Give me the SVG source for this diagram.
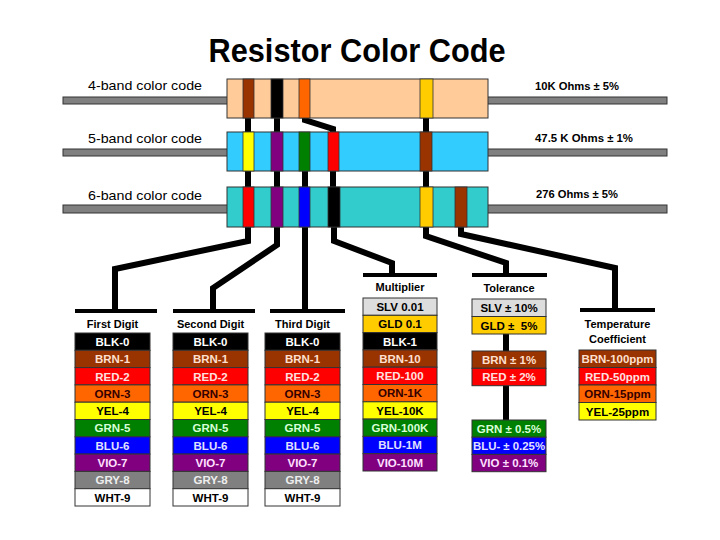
<svg xmlns="http://www.w3.org/2000/svg" width="720" height="540" viewBox="0 0 720 540">
<style>
.t{font-family:"Liberation Sans",Arial,sans-serif;font-weight:bold;font-size:11.5px;text-anchor:middle}
.h{font-size:11px}
.lbl{font-family:"Liberation Sans",Arial,sans-serif;font-size:13.5px}
.val{font-family:"Liberation Sans",Arial,sans-serif;font-weight:bold;font-size:11.5px}
.title{font-family:"Liberation Sans",Arial,sans-serif;font-weight:bold;font-size:34px;text-anchor:middle}
.lead{fill:#808080;stroke:#333;stroke-width:1}
.body{stroke:#333;stroke-width:1}
.band{stroke:#333;stroke-width:0.8}
.cell{stroke:#333;stroke-width:1}
.con{fill:none;stroke:#000;stroke-width:6;stroke-linejoin:miter}
.bar{fill:none;stroke:#000;stroke-width:4}
.blk{fill:#000}.brn{fill:#993300}.red{fill:#FF0000}.orn{fill:#FF6600}.yel{fill:#FFFF00}
.grn{fill:#008000}.blu{fill:#0000FF}.vio{fill:#800080}.gry{fill:#808080}.wht{fill:#FFFFFF}
.slv{fill:#DDDDDD}.gld{fill:#FFCC00}
.tw{fill:#FFFFFF}.tbrn{fill:#FFE0D0}.tred{fill:#FFE0E0}.torn{fill:#330000}.tk{fill:#000}
.tgrn{fill:#D8FFD8}.tblu{fill:#E0E0FF}.tvio{fill:#FFE0FF}.tgry{fill:#EEEEEE}
</style>

<text class="title" x="357" y="62" textLength="297" lengthAdjust="spacingAndGlyphs">Resistor Color Code</text>

<g id="connectors">
  <polyline class="con" points="248,116 248,134"/>
  <polyline class="con" points="277,116 277,134"/>
  <polyline class="con" points="305,116 305,120 333,129 333,134"/>
  <polyline class="con" points="426,116 426,134"/>
  <polyline class="con" points="248,168 248,190"/>
  <polyline class="con" points="277,168 277,190"/>
  <polyline class="con" points="305,168 305,190"/>
  <polyline class="con" points="333,168 333,190"/>
  <polyline class="con" points="426,168 426,190"/>
  <polyline class="con" points="248,224 248,241 115,269 115,311"/>
  <polyline class="con" points="277,224 277,245 213,288 213,311"/>
  <polyline class="con" points="305,224 305,311"/>
  <polyline class="con" points="334,224 334,241 392,263 392,275"/>
  <polyline class="con" points="426,224 426,236 506,263 506,275"/>
  <polyline class="con" points="461,224 461,234 615,268 615,310"/>
  <line class="bar" x1="75" y1="311" x2="157" y2="311"/>
  <line class="bar" x1="173" y1="311" x2="255" y2="311"/>
  <line class="bar" x1="270" y1="311" x2="345" y2="311"/>
  <line class="bar" x1="363" y1="275" x2="437" y2="275"/>
  <line class="bar" x1="472" y1="275" x2="547" y2="275"/>
  <line class="bar" x1="580" y1="310" x2="655" y2="310"/>
  <line class="con" x1="506" y1="332" x2="506" y2="353"/>
  <line class="con" x1="506" y1="384" x2="506" y2="422"/>
</g>

<g id="resistor-4band">
  <text class="lbl" x="88" y="90" textLength="114" lengthAdjust="spacingAndGlyphs">4-band color code</text>
  <rect class="lead" x="63" y="97" width="604" height="7"/>
  <rect class="body" x="227" y="79" width="261" height="39" fill="#FFCC99"/>
  <rect class="band brn" x="243" y="79" width="11" height="39"/>
  <rect class="band blk" x="271" y="79" width="12" height="39"/>
  <rect class="band orn" x="299" y="79" width="11" height="39"/>
  <rect class="band gld" x="420" y="79" width="13" height="39"/>
  <text class="val" x="535" y="90" textLength="84" lengthAdjust="spacingAndGlyphs">10K Ohms ± 5%</text>
</g>

<g id="resistor-5band">
  <text class="lbl" x="88" y="143" textLength="114" lengthAdjust="spacingAndGlyphs">5-band color code</text>
  <rect class="lead" x="63" y="149" width="604" height="7"/>
  <rect class="body" x="227" y="132" width="261" height="39" fill="#33CCFF"/>
  <rect class="band yel" x="243" y="132" width="11" height="39"/>
  <rect class="band vio" x="271" y="132" width="12" height="39"/>
  <rect class="band grn" x="299" y="132" width="11" height="39"/>
  <rect class="band red" x="328" y="132" width="11" height="39"/>
  <rect class="band brn" x="420" y="132" width="12" height="39"/>
  <text class="val" x="535" y="142" textLength="98" lengthAdjust="spacingAndGlyphs">47.5 K Ohms ± 1%</text>
</g>

<g id="resistor-6band">
  <text class="lbl" x="88" y="200" textLength="114" lengthAdjust="spacingAndGlyphs">6-band color code</text>
  <rect class="lead" x="63" y="205" width="604" height="8"/>
  <rect class="body" x="227" y="187" width="261" height="40" fill="#33CCCC"/>
  <rect class="band red" x="243" y="187" width="11" height="40"/>
  <rect class="band vio" x="271" y="187" width="12" height="40"/>
  <rect class="band blu" x="299" y="187" width="11" height="40"/>
  <rect class="band blk" x="328" y="187" width="12" height="40"/>
  <rect class="band gld" x="420" y="187" width="13" height="40"/>
  <rect class="band brn" x="455" y="187" width="12" height="40"/>
  <text class="val" x="536" y="198" textLength="82" lengthAdjust="spacingAndGlyphs">276 Ohms ± 5%</text>
</g>

<g id="first-digit">
  <text class="t h tk" x="112.5" y="328">First Digit</text>
  <rect class="cell blk" x="75" y="333" width="75" height="17.3"/><text class="t tw" x="112.5" y="345.9">BLK-0</text>
  <rect class="cell brn" x="75" y="350.3" width="75" height="17.3"/><text class="t tbrn" x="112.5" y="363.2">BRN-1</text>
  <rect class="cell red" x="75" y="367.6" width="75" height="17.3"/><text class="t tred" x="112.5" y="380.5">RED-2</text>
  <rect class="cell orn" x="75" y="384.9" width="75" height="17.3"/><text class="t torn" x="112.5" y="397.8">ORN-3</text>
  <rect class="cell yel" x="75" y="402.2" width="75" height="17.3"/><text class="t tk" x="112.5" y="415.1">YEL-4</text>
  <rect class="cell grn" x="75" y="419.5" width="75" height="17.3"/><text class="t tgrn" x="112.5" y="432.4">GRN-5</text>
  <rect class="cell blu" x="75" y="436.8" width="75" height="17.3"/><text class="t tblu" x="112.5" y="449.7">BLU-6</text>
  <rect class="cell vio" x="75" y="454.1" width="75" height="17.3"/><text class="t tvio" x="112.5" y="467">VIO-7</text>
  <rect class="cell gry" x="75" y="471.4" width="75" height="17.3"/><text class="t tgry" x="112.5" y="484.3">GRY-8</text>
  <rect class="cell wht" x="75" y="488.7" width="75" height="17.3"/><text class="t tk" x="112.5" y="501.6">WHT-9</text>
</g>

<g id="second-digit">
  <text class="t h tk" x="210.5" y="328">Second Digit</text>
  <rect class="cell blk" x="173" y="333" width="75" height="17.3"/><text class="t tw" x="210.5" y="345.9">BLK-0</text>
  <rect class="cell brn" x="173" y="350.3" width="75" height="17.3"/><text class="t tbrn" x="210.5" y="363.2">BRN-1</text>
  <rect class="cell red" x="173" y="367.6" width="75" height="17.3"/><text class="t tred" x="210.5" y="380.5">RED-2</text>
  <rect class="cell orn" x="173" y="384.9" width="75" height="17.3"/><text class="t torn" x="210.5" y="397.8">ORN-3</text>
  <rect class="cell yel" x="173" y="402.2" width="75" height="17.3"/><text class="t tk" x="210.5" y="415.1">YEL-4</text>
  <rect class="cell grn" x="173" y="419.5" width="75" height="17.3"/><text class="t tgrn" x="210.5" y="432.4">GRN-5</text>
  <rect class="cell blu" x="173" y="436.8" width="75" height="17.3"/><text class="t tblu" x="210.5" y="449.7">BLU-6</text>
  <rect class="cell vio" x="173" y="454.1" width="75" height="17.3"/><text class="t tvio" x="210.5" y="467">VIO-7</text>
  <rect class="cell gry" x="173" y="471.4" width="75" height="17.3"/><text class="t tgry" x="210.5" y="484.3">GRY-8</text>
  <rect class="cell wht" x="173" y="488.7" width="75" height="17.3"/><text class="t tk" x="210.5" y="501.6">WHT-9</text>
</g>

<g id="third-digit">
  <text class="t h tk" x="302.5" y="328">Third Digit</text>
  <rect class="cell blk" x="265" y="333" width="75" height="17.3"/><text class="t tw" x="302.5" y="345.9">BLK-0</text>
  <rect class="cell brn" x="265" y="350.3" width="75" height="17.3"/><text class="t tbrn" x="302.5" y="363.2">BRN-1</text>
  <rect class="cell red" x="265" y="367.6" width="75" height="17.3"/><text class="t tred" x="302.5" y="380.5">RED-2</text>
  <rect class="cell orn" x="265" y="384.9" width="75" height="17.3"/><text class="t torn" x="302.5" y="397.8">ORN-3</text>
  <rect class="cell yel" x="265" y="402.2" width="75" height="17.3"/><text class="t tk" x="302.5" y="415.1">YEL-4</text>
  <rect class="cell grn" x="265" y="419.5" width="75" height="17.3"/><text class="t tgrn" x="302.5" y="432.4">GRN-5</text>
  <rect class="cell blu" x="265" y="436.8" width="75" height="17.3"/><text class="t tblu" x="302.5" y="449.7">BLU-6</text>
  <rect class="cell vio" x="265" y="454.1" width="75" height="17.3"/><text class="t tvio" x="302.5" y="467">VIO-7</text>
  <rect class="cell gry" x="265" y="471.4" width="75" height="17.3"/><text class="t tgry" x="302.5" y="484.3">GRY-8</text>
  <rect class="cell wht" x="265" y="488.7" width="75" height="17.3"/><text class="t tk" x="302.5" y="501.6">WHT-9</text>
</g>

<g id="multiplier">
  <text class="t h tk" x="400" y="291">Multiplier</text>
  <rect class="cell slv" x="363" y="298" width="74" height="17.3"/><text class="t tk" x="400" y="310.9">SLV 0.01</text>
  <rect class="cell gld" x="363" y="315.3" width="74" height="17.3"/><text class="t tk" x="400" y="328.2">GLD 0.1</text>
  <rect class="cell blk" x="363" y="332.6" width="74" height="17.3"/><text class="t tw" x="400" y="345.5">BLK-1</text>
  <rect class="cell brn" x="363" y="349.9" width="74" height="17.3"/><text class="t tbrn" x="400" y="362.8">BRN-10</text>
  <rect class="cell red" x="363" y="367.2" width="74" height="17.3"/><text class="t tred" x="400" y="380.1">RED-100</text>
  <rect class="cell orn" x="363" y="384.5" width="74" height="17.3"/><text class="t torn" x="400" y="397.4">ORN-1K</text>
  <rect class="cell yel" x="363" y="401.8" width="74" height="17.3"/><text class="t tk" x="400" y="414.7">YEL-10K</text>
  <rect class="cell grn" x="363" y="419.1" width="74" height="17.3"/><text class="t tgrn" x="400" y="432">GRN-100K</text>
  <rect class="cell blu" x="363" y="436.4" width="74" height="17.3"/><text class="t tblu" x="400" y="449.3">BLU-1M</text>
  <rect class="cell vio" x="363" y="453.7" width="74" height="17.3"/><text class="t tvio" x="400" y="466.6">VIO-10M</text>
</g>

<g id="tolerance">
  <text class="t h tk" x="509" y="292">Tolerance</text>
  <rect class="cell slv" x="472" y="299" width="74" height="17.5"/><text class="t tk" x="509" y="312">SLV ± 10%</text>
  <rect class="cell gld" x="472" y="316.5" width="74" height="17.5"/><text class="t tk" x="509" y="329.5" xml:space="preserve">GLD ±  5%</text>
  <rect class="cell brn" x="472" y="351" width="74" height="17.3"/><text class="t tbrn" x="509" y="363.9">BRN ± 1%</text>
  <rect class="cell red" x="472" y="368.3" width="74" height="17.4"/><text class="t tred" x="509" y="381.3">RED ± 2%</text>
  <rect class="cell grn" x="472" y="420" width="74" height="17.2"/><text class="t tgrn" x="509" y="432.8">GRN ± 0.5%</text>
  <rect class="cell blu" x="472" y="437.2" width="74" height="17.2"/><text class="t tblu" x="509" y="450" textLength="72" lengthAdjust="spacingAndGlyphs">BLU- ± 0.25%</text>
  <rect class="cell vio" x="472" y="454.4" width="74" height="17.3"/><text class="t tvio" x="509" y="467.3">VIO ± 0.1%</text>
</g>

<g id="temperature-coefficient">
  <text class="t h tk" x="617.5" y="328">Temperature</text>
  <text class="t h tk" x="617.5" y="343">Coefficient</text>
  <rect class="cell brn" x="579" y="350" width="77" height="17.5"/><text class="t tbrn" x="617.5" y="363">BRN-100ppm</text>
  <rect class="cell red" x="579" y="367.5" width="77" height="17.5"/><text class="t tred" x="617.5" y="380.5">RED-50ppm</text>
  <rect class="cell orn" x="579" y="385" width="77" height="17.5"/><text class="t torn" x="617.5" y="398">ORN-15ppm</text>
  <rect class="cell yel" x="579" y="402.5" width="77" height="17.5"/><text class="t tk" x="617.5" y="415.5">YEL-25ppm</text>
</g>
</svg>
